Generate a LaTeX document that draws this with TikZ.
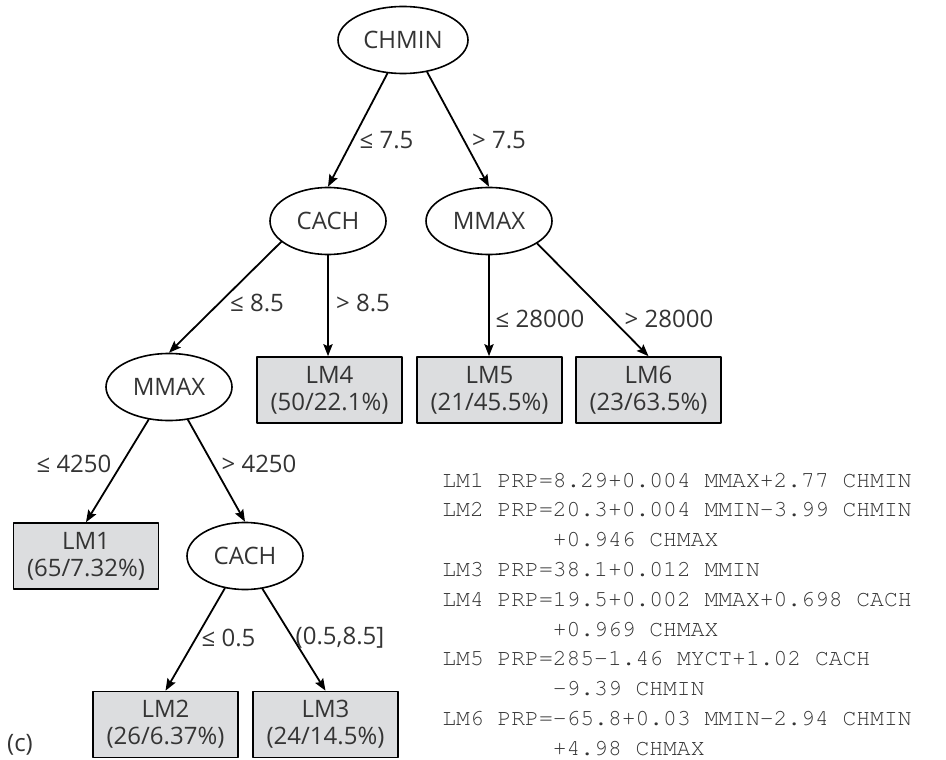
\documentclass[tikz,border=0pt]{standalone}
\usepackage[T1]{fontenc}
\usepackage{fontspec}
\setmainfont{Open Sans}
\newcommand\lmfont{\fontencoding{T1}\fontfamily{pcr}\selectfont}
\usepackage{xcolor}
\usetikzlibrary{arrows.meta}
\usetikzlibrary{shapes.geometric}
\definecolor{leafgray}{RGB}{220,221,223}
\definecolor{inkgray}{RGB}{52,52,52}

\begin{document}
\begin{tikzpicture}[x=0.5pt, y=-0.5pt, line cap=round, line join=round,
    >={Stealth[length=6pt, width=4.6pt, inset=1pt]},
    split/.style={ellipse, draw, line width=0.8pt, minimum width=#1, minimum height=33.5pt,
      inner sep=0pt, text=inkgray, font=\fontsize{12}{13.5}\selectfont},
    split/.default=63pt,
    leaf/.style={rectangle, draw, line width=0.8pt, fill=leafgray, minimum width=72.5pt,
      minimum height=33pt, align=center, text=inkgray, font=\fontsize{12}{13.5}\selectfont},
    cond/.style={inner sep=0pt, text=inkgray, font=\fontsize{12}{13.5}\selectfont},
    branch/.style={->, line width=0.9pt}]
  \useasboundingbox (0,0) rectangle (946,759);
  %--- splits
    \node[split=65pt] (chmin) at (403, 40) {CHMIN};
    \node[split=58pt] (cachA) at (328, 221) {CACH};
    \node[split] (mmaxA) at (489, 221) {MMAX};
    \node[split] (mmaxB) at (169, 387) {MMAX};
    \node[split=58pt] (cachB) at (245, 556) {CACH};
  %--- leaves
    \node[leaf] (lm1) at (86, 556) {LM1\\(65/7.32\%)};
    \node[leaf] (lm2) at (165.5, 724.5) {LM2\\(26/6.37\%)};
    \node[leaf] (lm3) at (325.5, 724.5) {LM3\\(24/14.5\%)};
    \node[leaf] (lm4) at (329.5, 390) {LM4\\(50/22.1\%)};
    \node[leaf] (lm5) at (489.5, 390) {LM5\\(21/45.5\%)};
    \node[leaf] (lm6) at (648.5, 390) {LM6\\(23/63.5\%)};
  %--- branches
    \draw[branch] (chmin.245) -- (cachA.north);
    \draw[branch] (chmin.307) -- (mmaxA.north);
    \draw[branch] (cachA.204) -- (mmaxB.north);
    \draw[branch] (cachA.south) -- (cachA.south |- lm4.north);
    \draw[branch] (mmaxA.south) -- (mmaxA.south |- lm5.north);
    \draw[branch] (mmaxA.335) -- (lm6.north);
    \draw[branch] (mmaxB.238) -- (lm1.north);
    \draw[branch] (mmaxB.300) -- (cachB.north);
    \draw[branch] (cachB.238) -- (lm2.north);
    \draw[branch] (cachB.298) -- (lm3.north);
  %--- conditions
    \node[cond] (c1) at (386.5, 140) {≤ 7.5};
    \node[cond] (c2) at (499, 140) {> 7.5};
    \node[cond] (c3) at (257, 303) {≤ 8.5};
    \node[cond] (c4) at (363, 303) {> 8.5};
    \node[cond] (c5) at (540, 319) {≤ 28000};
    \node[cond] (c6) at (669, 319) {> 28000};
    \node[cond] (c7) at (74, 464) {≤ 4250};
    \node[cond] (c8) at (259, 464) {> 4250};
    \node[cond] (c9) at (228.5, 638) {≤ 0.5};
    \node[cond] (c10) at (340, 638) {(0.5,8.5]};
    \node[cond] (panel) at (20, 745) {(c)};
  %--- linear models
    \node[anchor=north west, inner sep=0pt, align=left, text=inkgray,
      font=\lmfont\fontsize{11.5}{14.9}\selectfont] (models) at (442, 472)
      {LM1 PRP=8.29+0.004 MMAX+2.77 CHMIN\\
       LM2 PRP=20.3+0.004 MMIN-3.99 CHMIN\\
       \phantom{LM2 PRP=}+0.946 CHMAX\\
       LM3 PRP=38.1+0.012 MMIN\\
       LM4 PRP=19.5+0.002 MMAX+0.698 CACH\\
       \phantom{LM4 PRP=}+0.969 CHMAX\\
       LM5 PRP=285-1.46 MYCT+1.02 CACH\\
       \phantom{LM5 PRP=}-9.39 CHMIN\\
       LM6 PRP=-65.8+0.03 MMIN-2.94 CHMIN\\
       \phantom{LM6 PRP=}+4.98 CHMAX};
\end{tikzpicture}
\end{document}
